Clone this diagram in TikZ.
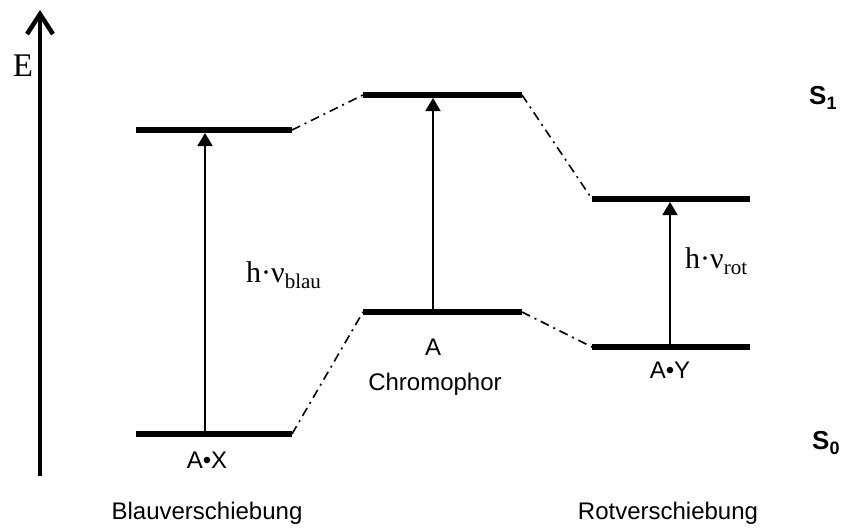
\documentclass[tikz,border=0pt]{standalone}
\usepackage{fontspec}
\setmainfont{Liberation Serif}
\newfontfamily\arialf{Liberation Sans}
\usetikzlibrary{arrows.meta}
\begin{document}
\begin{tikzpicture}[x=1pt,y=-1pt,
  lvl/.style={line width=6pt},
  trans/.style={line width=1.6pt,-{Triangle[length=13pt,width=15pt]}},
  link/.style={line width=1.6pt,dash pattern=on 9pt off 5pt on 2pt off 5pt},
  lab/.style={font=\arialf\fontsize{24}{24}\selectfont,anchor=base,inner sep=0pt},
  slab/.style={font=\arialf\bfseries\fontsize{26}{26}\selectfont,anchor=base west,inner sep=0pt},
  ser/.style={font=\fontsize{30}{30}\selectfont,inner sep=0pt}]
\useasboundingbox (0,0) rectangle (845,527);
% axis
\coordinate (ax0) at (40,476);
\coordinate (ax1) at (40,10);
\draw[line width=4.5pt,-{Straight Barb[length=20pt,width=26pt,line width=4.5pt]}] (ax0) -- (ax1);
\node[ser,font=\fontsize{33}{33}\selectfont,anchor=base] (E) at (23,76) {E};
% levels
\coordinate (x1l) at (136,130); \coordinate (x1r) at (292,130);
\coordinate (x0l) at (136,434); \coordinate (x0r) at (292,434);
\coordinate (c1l) at (363,95);  \coordinate (c1r) at (522,95);
\coordinate (c0l) at (363,312); \coordinate (c0r) at (522,312);
\coordinate (y1l) at (592,199); \coordinate (y1r) at (750,199);
\coordinate (y0l) at (592,347); \coordinate (y0r) at (750,347);
\foreach \a/\b in {x1l/x1r,x0l/x0r,c1l/c1r,c0l/c0r,y1l/y1r,y0l/y0r}
  \draw[lvl] (\a) -- (\b);
% connectors
\draw[link] (x1r) -- (c1l);
\draw[link] (c1r) -- (y1l);
\draw[link] (x0r) -- (c0l);
\draw[link] (c0r) -- (y0l);
% transitions
\coordinate (tx0) at (205,431); \coordinate (tx1) at (205,133);
\coordinate (tc0) at (433,309); \coordinate (tc1) at (433,98);
\coordinate (ty0) at (670,344); \coordinate (ty1) at (670,202);
\draw[trans] (tx0) -- (tx1);
\draw[trans] (tc0) -- (tc1);
\draw[trans] (ty0) -- (ty1);
% labels
\node[ser,anchor=base west] (hb) at (246,282) {h·ν\raisebox{-6pt}{\fontsize{21}{21}\selectfont blau}};
\node[ser,anchor=base west] (hr) at (685,268) {h·ν\raisebox{-6pt}{\fontsize{21}{21}\selectfont rot}};
\node[lab] (AX) at (207,468) {A•X};
\node[lab] (A) at (433,355) {A};
\node[lab] (Ch) at (435,390) {Chromophor};
\node[lab] (AY) at (670,378) {A•Y};
\node[slab] (S1) at (809,104) {S\raisebox{-5pt}{\fontsize{18}{18}\selectfont 1}};
\node[slab] (S0) at (812,449) {S\raisebox{-5pt}{\fontsize{18}{18}\selectfont 0}};
\node[lab] (BV) at (207,519) {Blauverschiebung};
\node[lab] (RV) at (668,519) {Rotverschiebung};
\end{tikzpicture}
\end{document}
